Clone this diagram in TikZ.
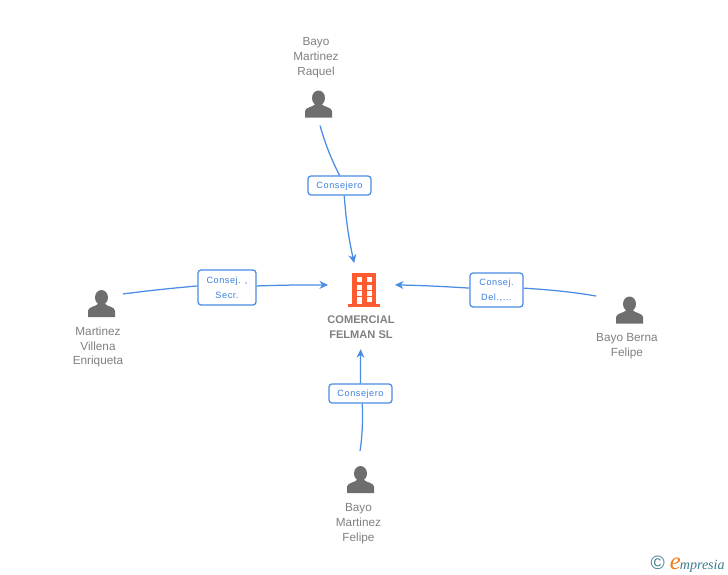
\documentclass[tikz,border=0pt]{standalone}
\usepackage{fontspec}
\setmainfont{Liberation Sans}
\newfontfamily\logofont{Liberation Serif}
\usetikzlibrary{positioning,arrows.meta}

\definecolor{linkblue}{HTML}{4A8BE3}
\definecolor{labelblue}{HTML}{3D80DC}
\definecolor{namegray}{HTML}{808080}
\definecolor{icongray}{HTML}{6E6E6E}
\definecolor{buildingorange}{HTML}{FF5B2E}
\definecolor{logoteal}{HTML}{3E7C8E}
\definecolor{logoorange}{HTML}{F07C1E}

\tikzset{
    personicon/.style={minimum width=27*0.2mm, minimum height=27*0.2mm, inner sep=0pt, outer sep=8*0.2mm,
        path picture={
            \begin{scope}[shift={(path picture bounding box.center)}]
                \fill [icongray] (0,-6) ellipse (6.5 and 7.5);
                \fill [icongray] (-13.5,13.5) -- (-13.5,7) .. controls (-13,3) and (-5,3) .. (-3,0) -- (3,0) .. controls (5,3) and (13,3) .. (13.5,7) -- (13.5,13.5) -- cycle;
            \end{scope}
        }},
    buildingicon/.style={minimum width=72*0.2mm, minimum height=54*0.2mm, inner sep=0pt, outer sep=0pt,
        path picture={
            \begin{scope}[shift={(path picture bounding box.center)}]
                \fill [buildingorange] (-12,-17) rectangle (12,15);
                \fill [buildingorange] (-16,14) rectangle (16,17);
                \foreach \winy in {-13,-5,1,7} {
                    \fill [white] (-7,\winy) rectangle (-2,\winy+4.5);
                    \fill [white] (3,\winy) rectangle (8,\winy+4.5);
                }
                \fill [white] (-7,11) rectangle (-2,14);
            \end{scope}
        }},
    personname/.style={align=center, text=namegray, font=\fontsize{6.7pt}{8.5pt}\selectfont, inner sep=0pt},
    rolebox/.style={draw=linkblue, fill=white, rounded corners=0.6mm, line width=0.25mm, align=center,
        text=labelblue, inner sep=0pt, text depth=-0.5pt, font=\fontsize{5.2pt}{8.6pt}\selectfont\addfontfeature{LetterSpace=6}},
    link/.style={linkblue, line width=0.25mm},
    arrowlink/.style={link, -{Stealth[length=1.7mm, width=1.6mm]}}
}

\begin{document}
\begin{tikzpicture}[x=0.2mm, y=-0.2mm]
    \useasboundingbox (0,0) rectangle (728,575);

    % Company - centre
    \node [buildingicon] (building) at (364,290) {};
    \node [personname, font=\bfseries\fontsize{6.3pt}{8.5pt}\selectfont] (company) at (361,327.5) {COMERCIAL\\FELMAN SL};

    % People - top, left, right, bottom
    \node [personicon] (raquel) at (318.5,104) {};
    \node [personname] (raquelname) at (316,58) {Bayo\\Martinez\\Raquel};
    \node [personicon] (enriqueta) at (101.5,303.5) {};
    \node [personname] (enriquetaname) at (98,347) {Martinez\\Villena\\Enriqueta};
    \node [personicon] (berna) at (629.5,310) {};
    \node [personname] (bernaname) at (627,346.5) {Bayo Berna\\Felipe};
    \node [personicon] (felipe) at (360.5,479.5) {};
    \node [personname] (felipename) at (358.5,524) {Bayo\\Martinez\\Felipe};

    % Role labels
    \node [rolebox, minimum width=63*0.2mm, minimum height=19*0.2mm] (raquelrole) at (339.5,185.5) {Consejero};
    \node [rolebox, minimum width=58*0.2mm, minimum height=35*0.2mm] (enriquetarole) at (227,287.5) {Consej. ,\\Secr.};
    \node [rolebox, minimum width=53*0.2mm, minimum height=34*0.2mm] (bernarole) at (496.5,290) {Consej.\\Del.,\dots};
    \node [rolebox, minimum width=63*0.2mm, minimum height=19*0.2mm] (feliperole) at (360.5,393.5) {Consejero};

    % Links person to label to company
    \draw [link] (raquel.-86) to[bend right=5] (raquelrole.north);
    \draw [arrowlink] (raquelrole.-65) to[bend right=4] (building.110);
    \draw [link] (enriqueta.24) to[bend left=1] (enriquetarole.177);
    \draw [arrowlink] (enriquetarole.3) to[bend left=1] (building.172);
    \draw [link, shorten <=2.4mm] (berna.151) to[bend right=3] (bernarole.4);
    \draw [arrowlink, shorten >=-1mm] (bernarole.176) to[bend right=1] (building.8);
    \draw [link, shorten <=1.4mm] (felipe.94) to[bend right=5] (feliperole.-80);
    \draw [arrowlink, shorten >=2mm] (feliperole.north) to[bend left=1] (company.south);

    % Logo
    \node [inner sep=0pt, anchor=east] (logo) at (725,564) {\logofont\itshape
        {\color{logoteal}\normalfont\fontspec{Liberation Sans}\fontsize{11pt}{11pt}\selectfont\textcopyright}\hspace{1mm}{\color{logoorange}\fontsize{14pt}{14pt}\selectfont e}\hspace{-0.2mm}{\color{logoteal}\fontsize{8pt}{8pt}\selectfont mpresia}};
\end{tikzpicture}
\end{document}
